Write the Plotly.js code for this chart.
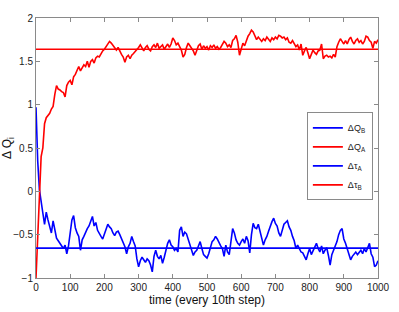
<!DOCTYPE html>
<html><head><meta charset="utf-8">
<script src="https://cdn.plot.ly/plotly-3.0.1.min.js"></script>
<style>html,body{margin:0;padding:0;background:#fff}#chart{width:399px;height:312px}</style>
</head><body><div id="chart"></div>
<script>
const stepSize = 5; // time samples shown every 5 units
const dQA = [-1.00,-0.55,0.05,0.40,0.50,0.78,0.85,0.88,0.90,0.95,
0.98,1.12,1.22,1.18,1.17,1.15,1.14,1.09,1.22,1.26,
1.28,1.23,1.32,1.35,1.40,1.44,1.39,1.43,1.46,1.44,
1.50,1.43,1.50,1.52,1.48,1.54,1.56,1.55,1.59,1.62,
1.64,1.67,1.70,1.73,1.71,1.68,1.65,1.63,1.66,1.61,
1.58,1.55,1.49,1.55,1.57,1.53,1.57,1.59,1.61,1.64,
1.66,1.69,1.65,1.62,1.66,1.68,1.64,1.62,1.67,1.69,
1.66,1.71,1.65,1.67,1.69,1.64,1.67,1.70,1.66,1.70,
1.77,1.74,1.69,1.71,1.67,1.63,1.55,1.58,1.66,1.71,
1.68,1.65,1.62,1.57,1.63,1.68,1.70,1.64,1.68,1.65,
1.67,1.63,1.68,1.66,1.69,1.65,1.67,1.64,1.66,1.70,
1.73,1.71,1.67,1.69,1.66,1.74,1.76,1.80,1.72,1.57,
1.66,1.71,1.68,1.75,1.79,1.82,1.86,1.84,1.79,1.75,
1.78,1.76,1.73,1.76,1.74,1.78,1.75,1.73,1.77,1.75,
1.78,1.76,1.80,1.79,1.77,1.78,1.75,1.77,1.72,1.71,
1.74,1.70,1.67,1.69,1.63,1.70,1.57,1.62,1.66,1.60,
1.53,1.58,1.63,1.60,1.58,1.62,1.63,1.70,1.53,1.56,
1.57,1.55,1.56,1.54,1.58,1.55,1.67,1.72,1.76,1.73,
1.70,1.74,1.70,1.75,1.78,1.73,1.70,1.74,1.76,1.72,
1.74,1.70,1.73,1.79,1.78,1.74,1.72,1.65,1.73,1.71,
1.75];
const dQB = [0.97,0.35,0.02,-0.15,-0.25,-0.38,-0.24,-0.33,-0.42,-0.48,
-0.34,-0.46,-0.54,-0.57,-0.60,-0.63,-0.66,-0.62,-0.72,-0.63,
-0.45,-0.33,-0.28,-0.42,-0.48,-0.52,-0.68,-0.56,-0.52,-0.47,
-0.43,-0.40,-0.33,-0.29,-0.40,-0.36,-0.45,-0.49,-0.52,-0.55,
-0.50,-0.45,-0.38,-0.41,-0.43,-0.48,-0.51,-0.47,-0.46,-0.50,
-0.55,-0.58,-0.64,-0.72,-0.64,-0.60,-0.52,-0.58,-0.63,-0.78,
-0.87,-0.80,-0.76,-0.79,-0.82,-0.78,-0.80,-0.85,-0.93,-0.75,
-0.68,-0.75,-0.78,-0.74,-0.83,-0.76,-0.68,-0.60,-0.56,-0.62,
-0.64,-0.68,-0.66,-0.70,-0.45,-0.41,-0.52,-0.47,-0.49,-0.55,
-0.60,-0.66,-0.74,-0.70,-0.68,-0.63,-0.58,-0.66,-0.73,-0.75,
-0.77,-0.72,-0.66,-0.58,-0.56,-0.52,-0.55,-0.60,-0.63,-0.66,
-0.75,-0.62,-0.70,-0.73,-0.55,-0.43,-0.48,-0.56,-0.60,-0.62,
-0.58,-0.55,-0.60,-0.52,-0.57,-0.71,-0.50,-0.37,-0.42,-0.43,
-0.38,-0.45,-0.53,-0.62,-0.56,-0.52,-0.46,-0.40,-0.35,-0.31,
-0.37,-0.40,-0.48,-0.52,-0.43,-0.38,-0.36,-0.34,-0.41,-0.45,
-0.52,-0.57,-0.66,-0.62,-0.66,-0.70,-0.71,-0.75,-0.79,-0.72,
-0.66,-0.73,-0.69,-0.64,-0.60,-0.66,-0.70,-0.63,-0.72,-0.68,
-0.65,-0.74,-0.85,-0.73,-0.68,-0.62,-0.58,-0.50,-0.45,-0.43,
-0.55,-0.60,-0.66,-0.72,-0.79,-0.75,-0.73,-0.70,-0.73,-0.71,
-0.68,-0.72,-0.66,-0.70,-0.64,-0.60,-0.72,-0.76,-0.87,-0.85,
-0.80];
const tauRange = [0, 1000];
const tauA = [-0.655, -0.655];
const tauB = [1.64, 1.64];
const xTicks = [0,100,200,300,400,500,600,700,800,900,1000];
const yTicks = [-1,-0.5,0,0.5,1,1.5,2];
const yTickText = ['\u22121','\u22120.5','0','0.5','1','1.5','2'];

const timeQA = dQA.map((_, i) => i * stepSize);
const timeQB = dQB.map((_, i) => i * stepSize);

const data = [
  {x: timeQB, y: dQB, mode:'lines', name:'ΔQ<sub>B</sub>', line:{color:'#0000ff', width:1.6}},
  {x: timeQA, y: dQA, mode:'lines', name:'ΔQ<sub>A</sub>', line:{color:'#ff0000', width:1.6}},
  {x: tauRange, y: tauA, mode:'lines', name:'Δτ<sub>A</sub>', line:{color:'#0000ff', width:1.6}},
  {x: tauRange, y: tauB, mode:'lines', name:'Δτ<sub>B</sub>', line:{color:'#ff0000', width:1.6}}
];
const axisCommon = {
  showgrid:false, zeroline:false, showline:true, linecolor:'#8a8a8a', linewidth:1,
  mirror:'ticks', ticks:'inside', ticklen:4, tickcolor:'#8a8a8a',
  tickfont:{family:'Liberation Sans, Arial, sans-serif', size:10, color:'#222'}
};
const layout = {
  width:399, height:312,
  margin:{l:36, r:21, t:18, b:34},
  paper_bgcolor:'#fff', plot_bgcolor:'#fff',
  font:{family:'Liberation Sans, Arial, sans-serif', color:'#222'},
  xaxis: Object.assign({}, axisCommon, {range:[0,1000], tickvals:xTicks,
    title:{text:'time (every 10th step)', font:{size:12, color:'#111'}, standoff:2}}),
  yaxis: Object.assign({}, axisCommon, {range:[-1,2], tickvals:yTicks, ticktext:yTickText,
    title:{text:'Δ Q<sub>i</sub>', font:{size:12, color:'#111'}, standoff:6}}),
  showlegend:true,
  legend:{x:0.985, y:0.637, xanchor:'right', yanchor:'top', bgcolor:'#fff',
    bordercolor:'#8a8a8a', borderwidth:1, font:{size:9, color:'#222'},
    itemwidth:30, tracegroupgap:0}
};
Plotly.newPlot('chart', data, layout, {displayModeBar:false, staticPlot:true});
</script></body></html>
